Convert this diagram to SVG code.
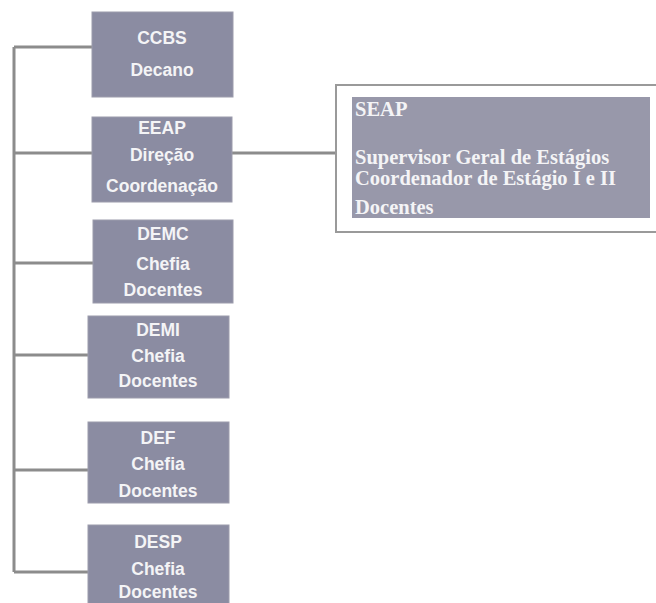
<svg xmlns="http://www.w3.org/2000/svg" width="656" height="603" viewBox="0 0 656 603">
<style>
.box{fill:#8b8ca2;stroke:#9c9cac;stroke-width:1}
.t{font-family:"Liberation Sans",Arial,sans-serif;font-size:17.5px;fill:#f4f4f6;text-anchor:middle;font-weight:bold}
.s{font-family:"Liberation Serif","Times New Roman",serif;font-size:20.5px;fill:#f4f4f6;font-weight:bold}
.c{stroke:#8c8c8c;stroke-width:3;fill:none}
</style>
<rect width="656" height="603" fill="#ffffff"/>
<g id="connectors">
<path class="c" d="M14 47 V572"/>
<path class="c" d="M14 47 H92"/>
<path class="c" d="M14 153 H92"/>
<path class="c" d="M14 263 H93"/>
<path class="c" d="M14 355 H88"/>
<path class="c" d="M14 470 H88"/>
<path class="c" d="M14 572 H88"/>
<path class="c" d="M232 153 H336"/>
</g>
<g id="ccbs">
<rect class="box" x="92" y="12" width="141" height="85"/>
<text class="t" x="162" y="44">CCBS</text>
<text class="t" x="162" y="76">Decano</text>
</g>
<g id="eeap">
<rect class="box" x="92" y="117" width="140" height="85"/>
<text class="t" x="162" y="134">EEAP</text>
<text class="t" x="162" y="161">Direção</text>
<text class="t" x="162" y="192">Coordenação</text>
</g>
<g id="demc">
<rect class="box" x="93" y="220" width="140" height="83"/>
<text class="t" x="163" y="240">DEMC</text>
<text class="t" x="163" y="270">Chefia</text>
<text class="t" x="163" y="296">Docentes</text>
</g>
<g id="demi">
<rect class="box" x="88" y="316" width="141" height="82"/>
<text class="t" x="158" y="336">DEMI</text>
<text class="t" x="158" y="362">Chefia</text>
<text class="t" x="158" y="387">Docentes</text>
</g>
<g id="def">
<rect class="box" x="88" y="422" width="141" height="81"/>
<text class="t" x="158" y="444">DEF</text>
<text class="t" x="158" y="470">Chefia</text>
<text class="t" x="158" y="497">Docentes</text>
</g>
<g id="desp">
<rect class="box" x="88" y="525" width="141" height="80"/>
<text class="t" x="158" y="548">DESP</text>
<text class="t" x="158" y="575">Chefia</text>
<text class="t" x="158" y="598">Docentes</text>
</g>
<g id="seap">
<rect x="336" y="85" width="322" height="147" fill="#ffffff" stroke="#9a9a9a" stroke-width="2"/>
<rect x="352" y="97" width="298" height="121" fill="#9898aa"/>
<text class="s" x="355" y="116">SEAP</text>
<text class="s" x="355" y="164">Supervisor Geral de Estágios</text>
<text class="s" x="355" y="185">Coordenador de Estágio I e II</text>
<text class="s" x="355" y="214">Docentes</text>
</g>
</svg>
